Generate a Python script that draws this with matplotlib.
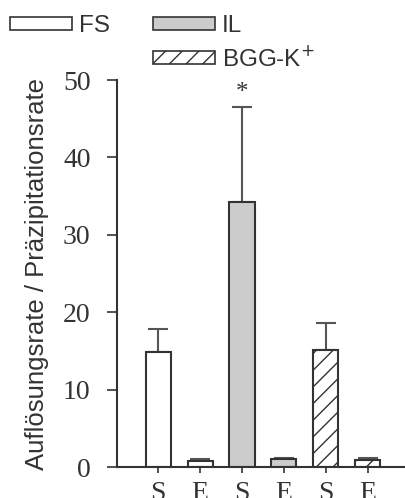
import matplotlib.pyplot as plt
from matplotlib.patches import Patch
import numpy as np

# data
labels = ['S', 'E', 'S', 'E', 'S', 'E']
values = [14.8, 0.8, 34.3, 1.0, 15.1, 0.9]
errors = [3.0, 0.2, 12.2, 0.2, 3.5, 0.3]
groups = ['FS', 'FS', 'IL', 'IL', 'BGG', 'BGG']

fills = {'FS': 'white', 'IL': '#cccccc', 'BGG': 'white'}
hatches = {'FS': '', 'IL': '', 'BGG': '//'}
edge = '#333333'

plt.rcParams['hatch.linewidth'] = 1.0
plt.rcParams['hatch.color'] = edge

fig = plt.figure(figsize=(4.06, 4.98), dpi=100)
ax = fig.add_axes([0.288, 0.0622, 0.71, 0.777])

x = np.arange(len(values))
for i in x:
    g = groups[i]
    ax.bar(x[i], values[i], width=0.6, color=fills[g], edgecolor=edge,
           linewidth=1.5, hatch=hatches[g], zorder=2)
    ax.errorbar(x[i], values[i], yerr=[[0], [errors[i]]], fmt='none',
                ecolor='#555555', elinewidth=1.5, capsize=7.5, capthick=1.5,
                zorder=1)

ax.text(2, 48.3, '*', ha='center', va='center', fontsize=18,
        family='Liberation Serif', color='#333333')

ax.set_xlim(-0.99, 5.9)
ax.set_ylim(0, 50)
ax.set_yticks([0, 10, 20, 30, 40, 50])
ax.set_xticks(x)
ax.set_xticklabels(labels)

for s in ['top', 'right']:
    ax.spines[s].set_visible(False)
for s in ['left', 'bottom']:
    ax.spines[s].set_color(edge)
    ax.spines[s].set_linewidth(1.5)

ax.tick_params(axis='y', length=7, width=1.2, color=edge, pad=12,
               labelsize=20, labelcolor='#333333')
ax.tick_params(axis='x', length=4, width=1.2, color=edge, pad=6,
               labelsize=20, labelcolor='#333333')
for t in ax.get_xticklabels() + ax.get_yticklabels():
    t.set_family('Liberation Serif')

ax.set_ylabel('Auflösungsrate / Präzipitationsrate', family='Liberation Sans',
              fontsize=18.5, color='#333333')
ax.yaxis.set_label_coords(-0.236, 0.5)

h_fs = Patch(facecolor='white', edgecolor=edge, linewidth=1.2, label='FS')
h_il = Patch(facecolor='#cccccc', edgecolor=edge, linewidth=1.2, label='IL')
h_bgg = Patch(facecolor='white', edgecolor=edge, linewidth=1.2, hatch='//',
              label='BGG-K$^{+}$')
h_blank = Patch(facecolor='none', edgecolor='none', label='')

leg = fig.legend(handles=[h_fs, h_blank, h_il, h_bgg], ncol=2,
                 loc='upper left', bbox_to_anchor=(-7 / 406, 1 + 2 / 498),
                 frameon=False,
                 prop={'family': 'Liberation Sans', 'size': 17.5},
                 handlelength=2.55, handleheight=0.45, handletextpad=0.27,
                 columnspacing=1.8, labelspacing=0.36, borderaxespad=0.3)
for t in leg.get_texts():
    t.set_color('#333333')

fig.savefig('out.png', dpi=100)
